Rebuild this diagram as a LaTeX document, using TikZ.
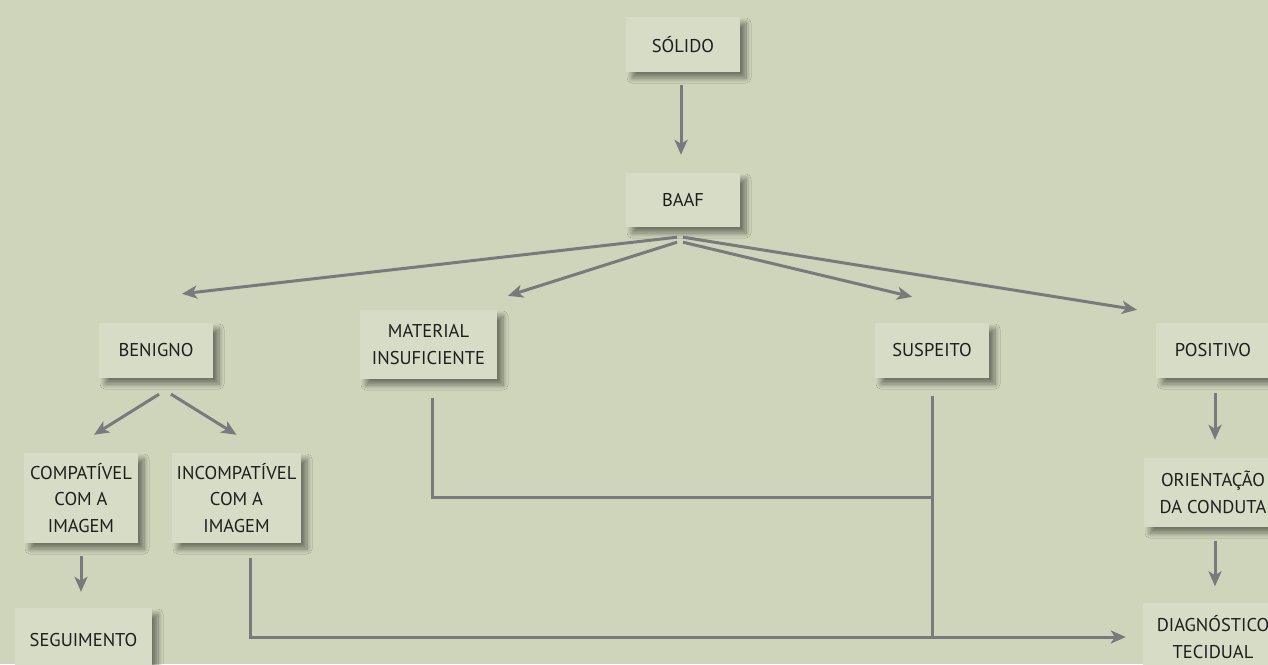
\documentclass[tikz,border=0pt]{standalone}
\usepackage{fontspec}
\setmainfont{PT Sans}
\usetikzlibrary{arrows.meta,calc,shadows.blur}
\definecolor{bgc}{HTML}{CED5BA}
\definecolor{boxc}{HTML}{D6DCC5}
\definecolor{linec}{HTML}{7A7A7E}
\definecolor{txtc}{HTML}{1E1E1E}
\begin{document}
\begin{tikzpicture}[x=1pt,y=-1pt,
  box/.style={fill=boxc, draw=none, minimum width=#1, align=center, text=txtc,
    font=\fontsize{18.5}{26.5}\selectfont, inner sep=0pt,
    blur shadow={shadow xshift=6pt, shadow yshift=-6pt, shadow blur radius=5pt, shadow opacity=45, shadow blur steps=10}},
  box/.default=114pt,
  conn/.style={draw=linec, line width=3pt},
  arr/.style={conn, -{Stealth[length=15pt,width=13pt,inset=4pt]}}]
\fill[bgc] (0,0) rectangle (1268,664);
\useasboundingbox (0,0) rectangle (1268,664);
% nodes
\node[box, minimum height=55pt] (solido) at (683,44.5) {SÓLIDO};
\node[box, minimum height=54pt] (baaf) at (683,200) {BAAF};
\node[box, minimum height=55pt] (benigno) at (156,350.5) {BENIGNO};
\node[box=137pt, minimum height=69pt] (material) at (428.5,344.5) {MATERIAL\\INSUFICIENTE};
\node[box, minimum height=55pt] (suspeito) at (932,350.5) {SUSPEITO};
\node[box, minimum height=55pt] (positivo) at (1213,350.5) {POSITIVO};
\node[box=138pt, minimum height=69pt] (orient) at (1213,492.5) {ORIENTAÇÃO\\DA CONDUTA};
\node[box=140pt, minimum height=69pt] (diag) at (1213,637) {DIAGNÓSTICO\\TECIDUAL};
\node[box, minimum height=90pt] (compat) at (81,498) {COMPATÍVEL\\COM A\\IMAGEM};
\node[box=129pt, minimum height=90pt] (incompat) at (236.5,498) {INCOMPATÍVEL\\COM A\\IMAGEM};
\node[box=137pt, minimum height=64pt] (seg) at (83.5,640) {SEGUIMENTO};
% connectors
\draw[arr] ($(solido.south)+(-2,13)$) -- ($(baaf.north)+(-2,-18)$);
\draw[arr] ($(baaf.south)+(-6,10)$) -- ($(benigno.north)+(26,-29)$);
\draw[arr] ($(baaf.south)+(-6,15)$) -- ($(material.north)+(79.5,-14)$);
\draw[arr] ($(baaf.south)+(0,15)$) -- ($(suspeito.north)+(-20,-26)$);
\draw[arr] ($(baaf.south)+(0,10)$) -- ($(positivo.north)+(-76,-13)$);
\draw[arr] ($(benigno.south)+(3,16)$) -- ($(compat.north)+(13,-18)$);
\draw[arr] ($(benigno.south)+(15,16)$) -- ($(incompat.north)+(0,-18)$);
\draw[arr] ($(compat.south)+(0,13)$) -- ($(seg.north)+(-2.5,-16)$);
\draw[arr] ($(positivo.south)+(2,15)$) -- ($(orient.north)+(2,-18)$);
\draw[arr] ($(orient.south)+(2,14)$) -- ($(diag.north)+(2,-16)$);
\coordinate (jm) at ($(suspeito.south)+(0,119)$);
\coordinate (jb) at ($(suspeito.south)+(0,259)$);
\draw[conn] ($(material.south)+(3.5,19)$) |- (jm);
\draw[conn] ($(suspeito.south)+(0,18)$) -- (jb);
\draw[arr] ($(incompat.south)+(13.5,15)$) |- ($(diag.west)+(-17,0)$);
\end{tikzpicture}
\end{document}
